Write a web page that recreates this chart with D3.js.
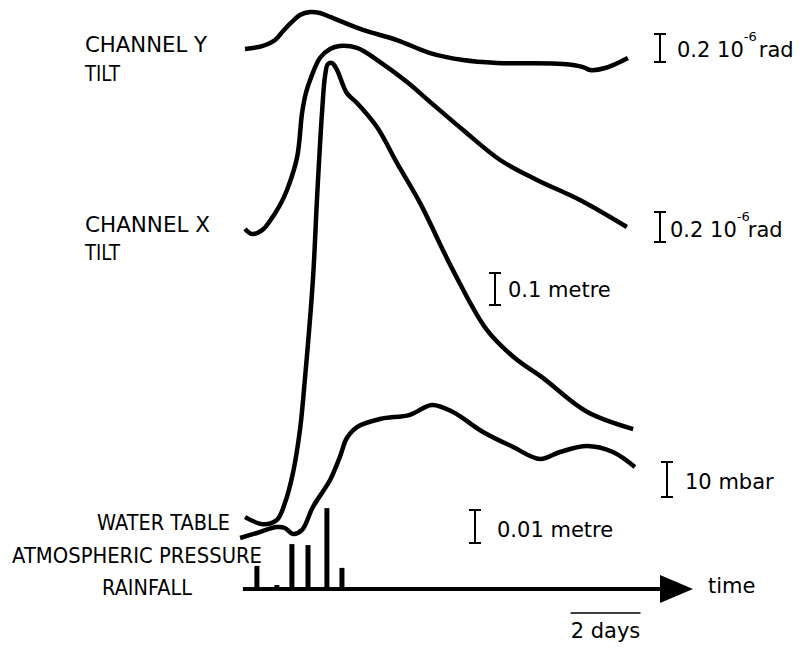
<!DOCTYPE html>
<html>
<head>
<meta charset="utf-8">
<script src="https://cdn.jsdelivr.net/npm/d3@7"></script>
<style>
  body { margin: 0; background: #fff; }
  text { font-family: 'DejaVu Sans', sans-serif; fill: #000; }
</style>
</head>
<body>
<div id="content"></div>
<script>
// days since start, value in series units
const channelYDays = [0, 0.49, 0.86, 1.09, 1.34, 1.57, 1.86, 2.14, 2.43, 3.37, 4.34, 5.29, 6.23, 7.2, 9.09, 9.66, 9.86, 10.29, 10.94]
const channelYTilt = [0, 0.021, 0.064, 0.129, 0.193, 0.243, 0.264, 0.257, 0.229, 0.136, 0.064, -0.029, -0.079, -0.1, -0.107, -0.129, -0.15, -0.136, -0.064] // 10^-6 rad

const channelXDays = [0, 0.2, 0.49, 0.71, 1.0, 1.2, 1.49, 1.63, 1.74, 1.86, 2.14, 2.43, 2.71, 3.2, 3.86, 4.63, 5.29, 6.23, 7.29, 8.34, 9.57, 10.91]
const channelXTilt = [0.02, -0.013, 0.013, 0.073, 0.18, 0.28, 0.5, 0.793, 0.927, 1.013, 1.16, 1.22, 1.24, 1.227, 1.133, 1.0, 0.867, 0.68, 0.48, 0.347, 0.213, 0.033] // 10^-6 rad

const waterDays = [0, 0.51, 0.91, 1.14, 1.37, 1.57, 1.71, 1.94, 2.06, 2.2, 2.29, 2.37, 2.49, 2.63, 2.91, 3.2, 3.77, 4.34, 5.0, 5.94, 6.91, 7.71, 8.51, 9.77, 11.09]
const waterTable = [0.009, -0.013, 0, 0.053, 0.147, 0.281, 0.438, 0.75, 1.009, 1.272, 1.39, 1.425, 1.428, 1.406, 1.334, 1.303, 1.228, 1.116, 0.991, 0.781, 0.594, 0.506, 0.444, 0.338, 0.284] // metre

const pressureDays = [-0.14, 0.34, 0.91, 1.14, 1.37, 1.63, 1.94, 2.43, 2.71, 2.91, 3.2, 3.86, 4.71, 5.34, 5.94, 6.8, 7.66, 8.43, 9.0, 9.77, 10.51, 11.14]
const pressure = [0, 1.43, 3.14, 2.86, 1.14, 2.29, 8.86, 16.57, 23.14, 28.57, 31.71, 34.0, 35.2, 38, 36, 30.29, 26, 22.57, 24.57, 26.29, 24.57, 20.29] // mbar

const rainDays = [0.34, 0.91, 1.34, 1.8, 2.34, 2.77]
const rainfall = [7.0, 1.2, 13.6, 13.3, 24.5, 6.4] // mm

const width = 801
const height = 650

const svg = d3.select('#content')
    .append('svg')
    .attr('width', width)
    .attr('height', height)

const scaleX = d3.scaleLinear()
    .domain([0, 12.8])
    .range([245, 693])

// each trace has its own vertical scale; the scale bar is one unit of it
const scaleChanY = d3.scaleLinear().domain([0, 0.2]).range([49, 21])
const scaleChanX = d3.scaleLinear().domain([0, 0.2]).range([232, 202])
const scaleWater = d3.scaleLinear().domain([0, 0.1]).range([520, 488])
const scalePress = d3.scaleLinear().domain([0, 10]).range([538, 503])
const scaleRain = d3.scaleLinear().domain([0, 10]).range([589, 556])

const axisY = 589

const traces = [
    { days: channelYDays, vals: channelYTilt, y: scaleChanY },
    { days: channelXDays, vals: channelXTilt, y: scaleChanX },
    { days: waterDays, vals: waterTable, y: scaleWater },
    { days: pressureDays, vals: pressure, y: scalePress }
]

const curves = svg.append('g').attr('id', 'curves')

traces.forEach(t => {
    const line = d3.line()
        .x(d => scaleX(d[0]))
        .y(d => t.y(d[1]))
        .curve(d3.curveCatmullRom.alpha(0.5))
    curves.append('path')
        .datum(d3.zip(t.days, t.vals))
        .attr('d', line)
        .attr('fill', 'none')
        .attr('stroke', '#000')
        .attr('stroke-width', 4.5)
        .attr('stroke-linejoin', 'round')
})

// rainfall bars
svg.append('g')
    .selectAll('rect')
    .data(d3.zip(rainDays, rainfall))
    .join('rect')
    .attr('x', d => scaleX(d[0]) - 2.5)
    .attr('width', 5)
    .attr('y', d => scaleRain(d[1]))
    .attr('height', d => axisY - scaleRain(d[1]))
    .attr('fill', '#000')

// time axis with arrow
const tipX = scaleX(12.8)
svg.append('line')
    .attr('x1', scaleX(-0.06))
    .attr('x2', tipX - 30)
    .attr('y1', axisY)
    .attr('y2', axisY)
    .attr('stroke', '#000')
    .attr('stroke-width', 4)

svg.append('path')
    .attr('d', `M${tipX - 33},${axisY - 14} L${tipX},${axisY} L${tipX - 33},${axisY + 14} Z`)
    .attr('fill', '#000')

svg.append('text')
    .text('time')
    .attr('x', 708)
    .attr('y', 593)
    .attr('font-size', 21)

// 2 days bar
const barStart = 9.3
svg.append('line')
    .attr('x1', scaleX(barStart))
    .attr('x2', scaleX(barStart + 2))
    .attr('y1', 613)
    .attr('y2', 613)
    .attr('stroke', '#000')
    .attr('stroke-width', 1.5)

svg.append('text')
    .text('2 days')
    .attr('x', scaleX(barStart + 1))
    .attr('y', 638)
    .attr('text-anchor', 'middle')
    .attr('font-size', 21)

// vertical scale bars
const scaleBars = [
    { x: 660, top: 34, scale: scaleChanY, unit: 0.2 },
    { x: 660, top: 212, scale: scaleChanX, unit: 0.2 },
    { x: 495, top: 273, scale: scaleWater, unit: 0.1 },
    { x: 667, top: 462, scale: scalePress, unit: 10 },
    { x: 475, top: 510, scale: scaleRain, unit: 10 }
]

const bars = svg.append('g').attr('id', 'scale-bars')
scaleBars.forEach(b => {
    const h = b.scale(0) - b.scale(b.unit)
    const g = bars.append('g')
    g.append('line')
        .attr('x1', b.x).attr('x2', b.x)
        .attr('y1', b.top).attr('y2', b.top + h)
        .attr('stroke', '#000').attr('stroke-width', 2)
    g.selectAll('.cap')
        .data([b.top, b.top + h])
        .join('line')
        .attr('x1', b.x - 6).attr('x2', b.x + 6)
        .attr('y1', d => d).attr('y2', d => d)
        .attr('stroke', '#000').attr('stroke-width', 2)
})

// scale labels
const radLabel = (x, y, gap) => {
    const t = svg.append('text')
        .attr('x', x)
        .attr('y', y)
        .attr('font-size', 21)
    t.append('tspan').text('0.2 10')
    t.append('tspan').text('-6').attr('font-size', 13).attr('dy', -16)
    t.append('tspan').text('rad').attr('dy', 16).attr('dx', gap)
}
radLabel(677, 57, 2)
radLabel(670, 237, -2)

const unitLabels = [
    { text: '0.1 metre', x: 508, y: 297 },
    { text: '10 mbar', x: 685, y: 489 },
    { text: '0.01 metre', x: 497, y: 537 }
]
svg.append('g')
    .selectAll('text')
    .data(unitLabels)
    .join('text')
    .text(d => d.text)
    .attr('x', d => d.x)
    .attr('y', d => d.y)
    .attr('font-size', 21)

// trace names
const names = [
    { text: 'CHANNEL Y', x: 85, y: 52, w: 122 },
    { text: 'TILT', x: 85, y: 81, w: 35 },
    { text: 'CHANNEL X', x: 85, y: 232, w: 125 },
    { text: 'TILT', x: 85, y: 260, w: 35 },
    { text: 'WATER TABLE', x: 97, y: 530, w: 133 },
    { text: 'ATMOSPHERIC PRESSURE', x: 12, y: 563, w: 250 },
    { text: 'RAINFALL', x: 102, y: 595, w: 90 }
]
svg.append('g')
    .selectAll('text')
    .data(names)
    .join('text')
    .text(d => d.text)
    .attr('x', d => d.x)
    .attr('y', d => d.y)
    .attr('font-size', 21)
    .attr('textLength', d => d.w)
    .attr('lengthAdjust', 'spacingAndGlyphs')
</script>
</body>
</html>
